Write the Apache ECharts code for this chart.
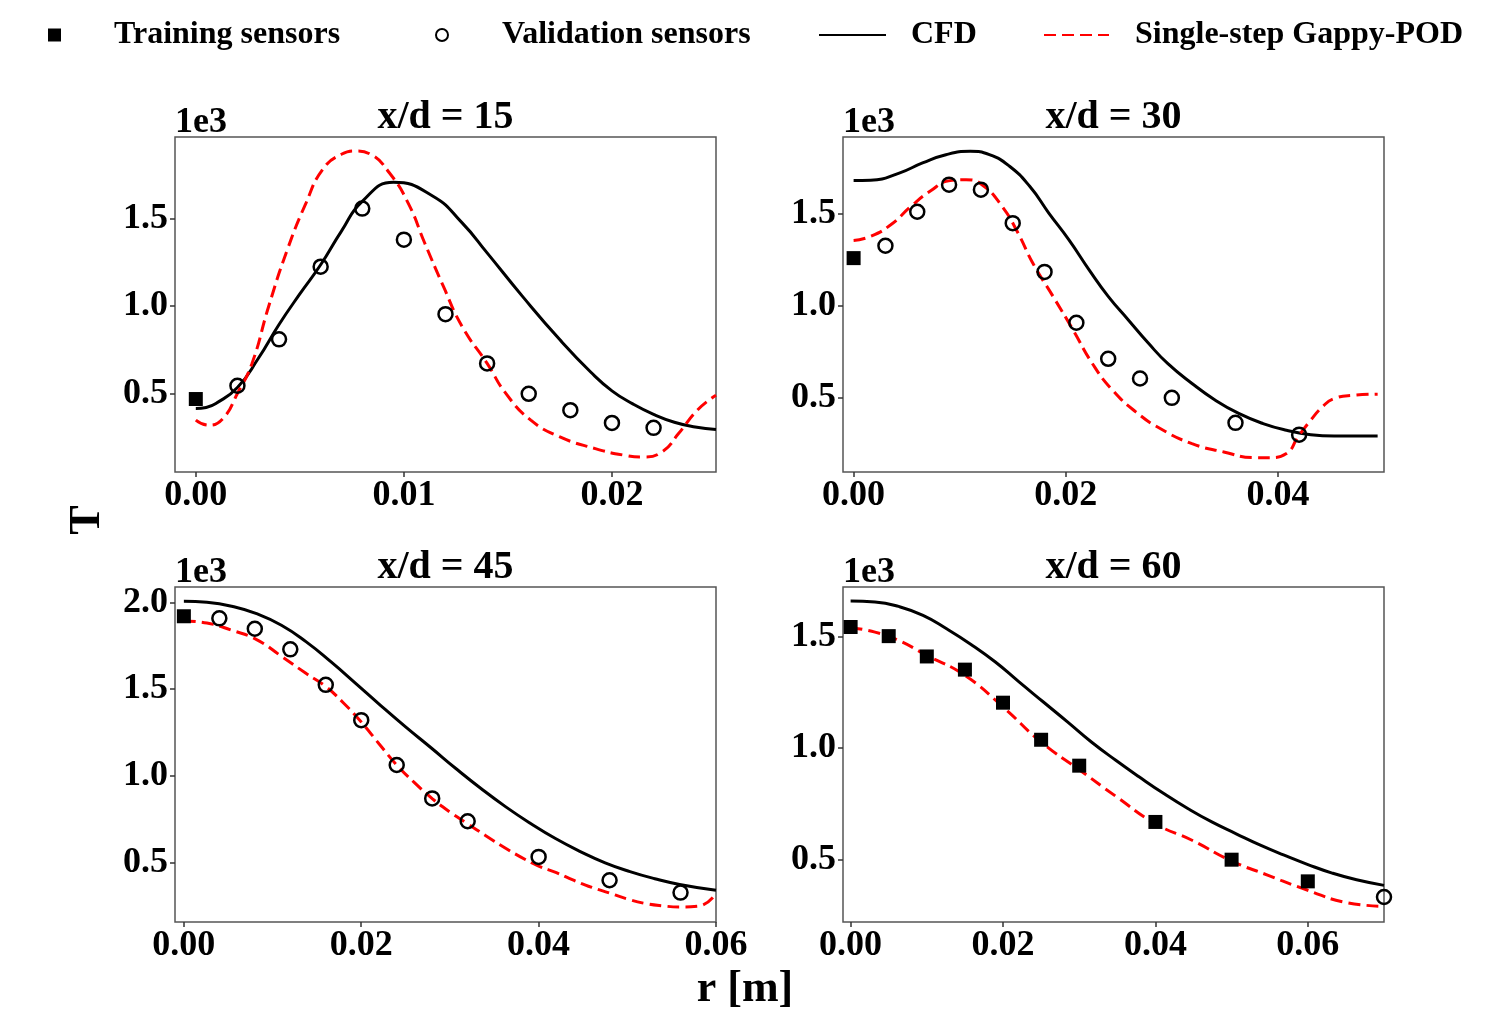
<!DOCTYPE html>
<html>
<head>
<meta charset="utf-8" />
<title>Gappy-POD temperature profiles</title>
<script src="https://cdn.jsdelivr.net/npm/echarts@6/dist/echarts.min.js"></script>
<style>
  html, body { margin: 0; padding: 0; background: #fff; }
  #main { width: 1490px; height: 1023px; }
</style>
</head>
<body>
<div id="main"></div>
<script>
// ---- data: [r (m), T (K)] ----
var cfd15 = [[0, 414], [0.0005, 420], [0.001, 445], [0.002, 534], [0.003, 700], [0.004, 895], [0.005, 1070],
  [0.006, 1237], [0.007, 1430], [0.008, 1600], [0.0095, 1710], [0.0114, 1630], [0.0128, 1477],
  [0.014, 1305], [0.0157, 1056], [0.0175, 807], [0.019, 620], [0.020, 515], [0.021, 440], [0.022, 380],
  [0.023, 335], [0.024, 308], [0.025, 293]];
var pod15 = [[0, 347], [0.0006, 318], [0.0013, 356], [0.002, 500], [0.0027, 672], [0.0035, 998], [0.0044, 1324],
  [0.0053, 1592], [0.0061, 1784], [0.007, 1870], [0.0077, 1889], [0.0084, 1870], [0.0093, 1764], [0.0102, 1592],
  [0.011, 1362], [0.0119, 1113], [0.0128, 883], [0.014, 672], [0.0149, 500], [0.0161, 347], [0.0175, 251],
  [0.0192, 184], [0.0206, 146], [0.0215, 136], [0.0224, 165], [0.0232, 270], [0.0241, 404], [0.025, 490]];
var train15 = [[0, 468]];
var valid15 = [[0.002, 544], [0.004, 810], [0.006, 1226], [0.008, 1559], [0.010, 1381], [0.012, 954],
  [0.014, 672], [0.016, 498], [0.018, 404], [0.020, 331], [0.022, 303]];

var cfd30 = [[0, 1680], [0.0016, 1682], [0.0043, 1721], [0.0065, 1776], [0.0087, 1821], [0.011, 1839],
  [0.0128, 1821], [0.0147, 1758], [0.0166, 1649], [0.0184, 1504], [0.0203, 1358], [0.0222, 1195], [0.024, 1051],
  [0.0259, 923], [0.0278, 796], [0.0296, 687], [0.0319, 578], [0.0341, 487], [0.0363, 415], [0.0386, 360],
  [0.0408, 324], [0.0431, 300], [0.0453, 293], [0.0494, 293]];
var pod30 = [[0, 1355], [0.0016, 1377], [0.0035, 1440], [0.0054, 1540], [0.0072, 1622], [0.0091, 1680],
  [0.0106, 1685], [0.0121, 1658], [0.014, 1540], [0.0155, 1395], [0.0169, 1231], [0.0188, 1051], [0.0207, 868],
  [0.0225, 687], [0.0244, 542], [0.0266, 424], [0.0289, 333], [0.0319, 251], [0.0349, 206], [0.0378, 175],
  [0.0393, 175], [0.0408, 197], [0.0419, 288], [0.0431, 379], [0.0442, 451], [0.0453, 496], [0.0472, 514],
  [0.0494, 520]];
var train30 = [[0, 1259]];
var valid30 = [[0.003, 1326], [0.006, 1511], [0.009, 1658], [0.012, 1631], [0.015, 1449], [0.018, 1184],
  [0.021, 908], [0.024, 712], [0.027, 605], [0.030, 500], [0.036, 364], [0.042, 300]];

var cfd45 = [[0, 2008], [0.0026, 2002], [0.0054, 1979], [0.0082, 1936], [0.011, 1869], [0.0138, 1773],
  [0.0166, 1657], [0.0194, 1532], [0.0222, 1405], [0.025, 1282], [0.0279, 1160], [0.0307, 1040], [0.0335, 926],
  [0.0363, 820], [0.0391, 724], [0.0419, 637], [0.0447, 562], [0.0475, 497], [0.0503, 446], [0.0531, 405],
  [0.0559, 372], [0.06, 338]];
var pod45 = [[0, 1894], [0.0026, 1882], [0.0054, 1840], [0.0082, 1786], [0.011, 1690], [0.0138, 1590],
  [0.016, 1515], [0.018, 1420], [0.020, 1310], [0.022, 1185], [0.024, 1062], [0.026, 960], [0.028, 868],
  [0.030, 790], [0.032, 722], [0.034, 655], [0.036, 590], [0.038, 530], [0.040, 478], [0.042, 440],
  [0.044, 395], [0.046, 355], [0.048, 322], [0.050, 288], [0.052, 262], [0.054, 248], [0.056, 242],
  [0.058, 246], [0.060, 319]];
var train45 = [[0, 1921]];
var valid45 = [[0.004, 1909], [0.008, 1849], [0.012, 1730], [0.016, 1525], [0.020, 1321], [0.024, 1062],
  [0.028, 869], [0.032, 737], [0.040, 531], [0.048, 396], [0.056, 325]];

var cfd60 = [[0, 1658], [0.0032, 1654], [0.0063, 1634], [0.0095, 1594], [0.0126, 1534], [0.0158, 1464],
  [0.019, 1385], [0.0221, 1296], [0.0253, 1206], [0.0285, 1116], [0.0316, 1027], [0.0348, 945], [0.0379, 870],
  [0.0411, 796], [0.0443, 728], [0.0474, 669], [0.0506, 616], [0.0537, 566], [0.0569, 520], [0.0601, 477],
  [0.0632, 440], [0.0664, 410], [0.07, 385]];
var pod60 = [[0, 1539], [0.0032, 1519], [0.0063, 1482], [0.01, 1415], [0.015, 1325], [0.02, 1184],
  [0.025, 1027], [0.03, 903], [0.0348, 784], [0.04, 661], [0.0448, 587], [0.05, 494], [0.0548, 430],
  [0.06, 363], [0.0648, 310], [0.07, 291]];
var train60 = [[0, 1542], [0.005, 1501], [0.01, 1410], [0.015, 1351], [0.02, 1203], [0.025, 1037],
  [0.03, 921], [0.04, 669], [0.05, 500], [0.06, 403]];
var valid60 = [[0.07, 333]];

// ---- axes ----
var panelTitles = ['x/d = 15', 'x/d = 30', 'x/d = 45', 'x/d = 60'];
var xMin = -0.001;
var xMax = [0.025, 0.05, 0.06, 0.07];
var xTicks = [[0, 0.01, 0.02], [0, 0.02, 0.04], [0, 0.02, 0.04, 0.06], [0, 0.02, 0.04, 0.06]];
var yMin = [50, 97, 155, 221];
var yMax = [1969, 1917, 2090, 1721];
var yTicks = [[500, 1000, 1500], [500, 1000, 1500], [500, 1000, 1500, 2000], [500, 1000, 1500]];

var cfd = [cfd15, cfd30, cfd45, cfd60];
var pod = [pod15, pod30, pod45, pod60];
var train = [train15, train30, train45, train60];
var valid = [valid15, valid30, valid45, valid60];

var FONT = '"Liberation Serif", "Times New Roman", serif';
var boxes = [[175, 137], [843, 137], [175, 587], [843, 587]];
var W = 541, H = 335;

var chart = echarts.init(document.getElementById('main'));

var grids = [], xAxes = [], yAxes = [], series = [], titles = [];
for (var i = 0; i < 4; i++) {
  grids.push({
    left: boxes[i][0], top: boxes[i][1], width: W, height: H,
    show: true, borderColor: '#555', borderWidth: 1.5, backgroundColor: '#fff',
    outerBoundsMode: 'none'
  });
  xAxes.push({
    gridIndex: i, type: 'value', min: xMin, max: xMax[i], position: 'bottom',
    axisLine: { show: false, onZero: false }, splitLine: { show: false },
    axisTick: { show: true, inside: false, length: 5, customValues: xTicks[i], lineStyle: { color: '#333', width: 1.5 } },
    axisLabel: {
      customValues: xTicks[i], margin: 6, color: '#000',
      fontFamily: FONT, fontWeight: 'bold', fontSize: 36,
      formatter: function (v) { return v.toFixed(2); }
    }
  });
  yAxes.push({
    gridIndex: i, type: 'value', min: yMin[i], max: yMax[i], position: 'left',
    name: '1e3', nameLocation: 'end', nameGap: -4,
    nameTextStyle: { align: 'left', verticalAlign: 'bottom', color: '#000', fontFamily: FONT, fontWeight: 'bold', fontSize: 36 },
    axisLine: { show: false, onZero: false }, splitLine: { show: false },
    axisTick: { show: true, inside: false, length: 5, customValues: yTicks[i], lineStyle: { color: '#333', width: 1.5 } },
    axisLabel: {
      customValues: yTicks[i], margin: 7, color: '#000',
      fontFamily: FONT, fontWeight: 'bold', fontSize: 36,
      formatter: function (v) { return (v / 1000).toFixed(1); }
    }
  });
  titles.push({
    text: panelTitles[i], left: boxes[i][0] + W / 2, top: boxes[i][1] - 39, textAlign: 'center', padding: 0,
    textStyle: { color: '#000', fontFamily: FONT, fontWeight: 'bold', fontSize: 40 }
  });

  series.push({
    name: 'CFD', type: 'line', xAxisIndex: i, yAxisIndex: i, data: cfd[i],
    symbol: 'none', smooth: 0.5,
    lineStyle: { color: '#000', width: 3 }, itemStyle: { color: '#000' }, z: 2
  });
  series.push({
    name: 'Single-step Gappy-POD', type: 'line', xAxisIndex: i, yAxisIndex: i, data: pod[i],
    symbol: 'none', smooth: 0.5,
    lineStyle: { color: '#ff0000', width: 3, type: [12, 6] }, itemStyle: { color: '#ff0000' }, z: 3
  });
  series.push({
    name: 'Training sensors', type: 'scatter', xAxisIndex: i, yAxisIndex: i, data: train[i],
    symbol: 'rect', symbolSize: 14, itemStyle: { color: '#000', opacity: 1 }, z: 4
  });
  series.push({
    name: 'Validation sensors', type: 'scatter', xAxisIndex: i, yAxisIndex: i, data: valid[i],
    symbol: 'circle', symbolSize: 14,
    itemStyle: { color: 'rgba(255,255,255,0)', borderColor: '#000', borderWidth: 2.5, opacity: 1 }, z: 5
  });
}

titles.push({
  text: 'r [m]', left: 745, top: 968, textAlign: 'center', padding: 0,
  textStyle: { color: '#000', fontFamily: FONT, fontWeight: 'bold', fontSize: 44 }
});

var legendText = { color: '#000', fontFamily: FONT, fontWeight: 'bold', fontSize: 32 };
function legendFor(name, left, icon, w, h, gap) {
  var l = {
    data: [name], left: left, top: 19, padding: 0, itemWidth: w, itemHeight: h,
    selectedMode: false,
    textStyle: Object.assign({ padding: [0, 0, 0, gap] }, legendText)
  };
  if (icon) l.icon = icon;
  else l.itemStyle = { opacity: 0 };
  return l;
}

var option = {
  backgroundColor: '#fff',
  animation: false,
  title: titles,
  legend: [
    legendFor('Training sensors', 48, 'rect', 13, 13, 48),
    legendFor('Validation sensors', 435, 'circle', 12, 12, 49),
    legendFor('CFD', 818, null, 67, 12, 20),
    legendFor('Single-step Gappy-POD', 1043, null, 65, 12, 21)
  ],
  grid: grids,
  xAxis: xAxes,
  yAxis: yAxes,
  series: series,
  graphic: [{
    type: 'text', x: 88, y: 520, rotation: Math.PI / 2,
    style: { text: 'T', fill: '#000', font: 'bold 44px ' + FONT, align: 'center', verticalAlign: 'middle' }
  }]
};

chart.setOption(option);
</script>
</body>
</html>
